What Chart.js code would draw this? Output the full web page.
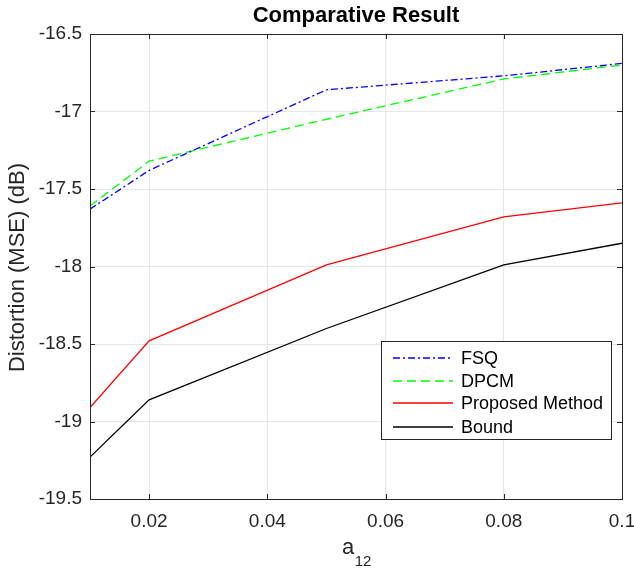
<!DOCTYPE html>
<html>
<head>
<meta charset="utf-8">
<script src="https://cdn.jsdelivr.net/npm/chart.js@4"></script>
<style>
  html, body { margin: 0; padding: 0; background: #fff; }
  #wrap { position: relative; width: 634px; height: 571px; }
</style>
</head>
<body>
<div id="wrap"><canvas id="c" width="634" height="571"></canvas></div>
<script>
const xValues = [0.01, 0.02, 0.05, 0.08, 0.1];
const fsq = [-17.63, -17.38, -16.86, -16.77, -16.69];
const dpcm = [-17.61, -17.32, -17.05, -16.79, -16.70];
const proposed = [-18.91, -18.48, -17.99, -17.68, -17.59];
const bound = [-19.23, -18.86, -18.40, -17.99, -17.85];

const xTicks = [0.02, 0.04, 0.06, 0.08, 0.1];
const xTickLabels = ['0.02', '0.04', '0.06', '0.08', '0.1'];
const yTicks = [-19.5, -19, -18.5, -18, -17.5, -17, -16.5];
const yTickLabels = ['-19.5', '-19', '-18.5', '-18', '-17.5', '-17', '-16.5'];

const FONT = '"Liberation Sans", Arial, Helvetica, sans-serif';

function pts(ys) {
  return xValues.map((x, i) => ({ x, y: ys[i] }));
}

const series = [
  { label: 'FSQ', data: fsq, color: '#0000ff', dash: [7, 3, 2, 3] },
  { label: 'DPCM', data: dpcm, color: '#00ff00', dash: [9, 5] },
  { label: 'Proposed Method', data: proposed, color: '#ff0000', dash: [] },
  { label: 'Bound', data: bound, color: '#000000', dash: [] },
];

// frame, inward ticks, title, axis labels, legend
const decor = {
  id: 'decor',
  afterDraw(chart) {
    const { ctx, chartArea: a, scales } = chart;
    ctx.save();
    ctx.strokeStyle = '#262626';
    ctx.lineWidth = 1;
    ctx.strokeRect(a.left + 0.5, a.top + 0.5, a.right - a.left, a.bottom - a.top);
    ctx.beginPath();
    xTicks.forEach(v => {
      const px = Math.round(scales.x.getPixelForValue(v)) + 0.5;
      ctx.moveTo(px, a.bottom); ctx.lineTo(px, a.bottom - 5);
      ctx.moveTo(px, a.top); ctx.lineTo(px, a.top + 5);
    });
    yTicks.forEach(v => {
      const py = Math.round(scales.y.getPixelForValue(v)) + 0.5;
      ctx.moveTo(a.left, py); ctx.lineTo(a.left + 5, py);
      ctx.moveTo(a.right, py); ctx.lineTo(a.right - 5, py);
    });
    ctx.stroke();

    ctx.fillStyle = '#000';
    ctx.textAlign = 'center';
    ctx.textBaseline = 'middle';
    ctx.font = 'bold 22px ' + FONT;
    ctx.fillText('Comparative Result', 356, 16);

    ctx.fillStyle = '#262626';
    ctx.font = '22px ' + FONT;
    ctx.fillText('a', 348, 548);
    ctx.font = '15px ' + FONT;
    ctx.fillText('12', 363, 562);

    ctx.save();
    ctx.translate(18, (a.top + a.bottom) / 2 + 1);
    ctx.rotate(-Math.PI / 2);
    ctx.font = '22px ' + FONT;
    ctx.fillText('Distortion (MSE) (dB)', 0, 0);
    ctx.restore();
    ctx.restore();

    // legend box
    const lx = 381, ly = 341, lw = 230, lh = 98;
    const rows = [358, 381, 403, 427];
    ctx.save();
    ctx.fillStyle = '#ffffff';
    ctx.fillRect(lx, ly, lw, lh);
    ctx.strokeStyle = '#262626';
    ctx.lineWidth = 1;
    ctx.strokeRect(lx + 0.5, ly + 0.5, lw, lh);
    ctx.restore();
    series.forEach((s, i) => {
      ctx.save();
      ctx.setLineDash(s.dash);
      ctx.lineWidth = 1.3;
      ctx.strokeStyle = s.color;
      ctx.beginPath();
      ctx.moveTo(393, rows[i]);
      ctx.lineTo(453, rows[i]);
      ctx.stroke();
      ctx.restore();
      ctx.save();
      ctx.fillStyle = '#000000';
      ctx.font = '18px ' + FONT;
      ctx.textAlign = 'left';
      ctx.textBaseline = 'middle';
      ctx.fillText(s.label, 461, rows[i] + 1);
      ctx.restore();
    });
  }
};

new Chart(document.getElementById('c'), {
  type: 'line',
  data: {
    datasets: series.map(s => ({
      label: s.label,
      data: pts(s.data),
      borderColor: s.color,
      borderWidth: 1.3,
      borderDash: s.dash,
      pointRadius: 0,
      tension: 0,
      fill: false,
    })),
  },
  options: {
    responsive: false,
    animation: false,
    layout: { padding: { top: 34, right: 12, left: 0, bottom: 0 } },
    plugins: { legend: { display: false }, title: { display: false }, tooltip: { enabled: false } },
    scales: {
      x: {
        type: 'linear',
        min: 0.01,
        max: 0.1,
        afterBuildTicks: sc => { sc.ticks = xTicks.map(v => ({ value: v })); },
        afterFit: sc => { sc.height = 72; sc.paddingRight = 0; sc.paddingLeft = 0; },
        ticks: {
          color: '#262626',
          font: { family: FONT, size: 19 },
          padding: 11,
          maxRotation: 0,
          callback: (v) => xTickLabels[xTicks.indexOf(v)],
        },
        grid: { color: '#e6e6e6', drawTicks: false },
        border: { display: false },
      },
      y: {
        min: -19.5,
        max: -16.5,
        afterBuildTicks: sc => { sc.ticks = yTicks.map(v => ({ value: v })); },
        afterFit: sc => { sc.width = 90; sc.paddingTop = 0; sc.paddingBottom = 0; },
        ticks: {
          color: '#262626',
          font: { family: FONT, size: 19 },
          padding: 8,
          callback: (v) => yTickLabels[yTicks.indexOf(v)],
        },
        grid: { color: '#e6e6e6', drawTicks: false },
        border: { display: false },
      },
    },
  },
  plugins: [decor],
});
</script>
</body>
</html>
